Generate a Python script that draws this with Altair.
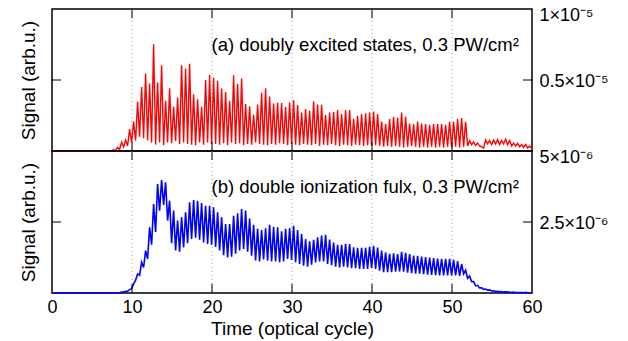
import altair as alt
import pandas as pd

# time of first listed peak and spacing between successive peaks (optical cycles)
T0 = 7.7
STEP = 0.5

# (a) doubly excited states, values in units of 1e-5
top_peaks = [
    0.008, 0.026, 0.061, 0.077, 0.154,
    0.208, 0.346, 0.451, 0.545, 0.475, 0.751, 0.482, 0.604, 0.353, 0.442,
    0.311, 0.377, 0.604, 0.580, 0.615, 0.400, 0.365, 0.311, 0.500, 0.535,
    0.515, 0.494, 0.440, 0.415, 0.353, 0.533, 0.472, 0.511, 0.330, 0.315,
    0.255, 0.328, 0.410, 0.441, 0.383, 0.334, 0.339, 0.338, 0.310, 0.341,
    0.358, 0.323, 0.271, 0.295, 0.284, 0.351, 0.328, 0.325, 0.254, 0.271,
    0.276, 0.288, 0.260, 0.288, 0.288, 0.225, 0.248, 0.260, 0.266, 0.271,
    0.278, 0.260, 0.208, 0.189, 0.225, 0.241, 0.236, 0.271, 0.241, 0.194,
    0.189, 0.208, 0.194, 0.189, 0.184, 0.189, 0.189, 0.189, 0.184, 0.206,
    0.206, 0.225, 0.232, 0.206, 0.072, 0.064, 0.056, 0.030, 0.077, 0.074,
    0.077, 0.080, 0.074, 0.084, 0.074, 0.056, 0.054, 0.045, 0.045, 0.035,
]
top_troughs = [
    0.003, 0.012, 0.028, 0.035, 0.060,
    0.075, 0.100, 0.090, 0.075, 0.060, 0.045, 0.060, 0.040, 0.060, 0.055,
    0.070, 0.050, 0.060, 0.050, 0.045, 0.040, 0.060, 0.045, 0.060, 0.050,
    0.050, 0.045, 0.055, 0.040, 0.060, 0.050, 0.055, 0.040, 0.050, 0.045,
    0.060, 0.050, 0.045, 0.040, 0.050, 0.045, 0.055, 0.050, 0.040, 0.050,
    0.045, 0.040, 0.050, 0.045, 0.040, 0.050, 0.035, 0.045, 0.040, 0.050,
    0.040, 0.035, 0.045, 0.040, 0.035, 0.045, 0.040, 0.035, 0.040, 0.035,
    0.040, 0.035, 0.030, 0.035, 0.030, 0.035, 0.030, 0.025, 0.030, 0.035,
    0.030, 0.025, 0.030, 0.025, 0.030, 0.025, 0.030, 0.025, 0.030, 0.025,
    0.030, 0.025, 0.030, 0.035, 0.045, 0.040, 0.035, 0.020, 0.050, 0.045,
    0.050, 0.045, 0.050, 0.045, 0.035, 0.035, 0.030, 0.025, 0.020,
]

# (b) double ionization flux, values in units of 1e-6
bot_peaks = [
    0.00, 0.01, 0.03, 0.06, 0.12,
    0.32, 0.67, 1.08, 1.49, 2.31, 3.13, 3.84, 3.98, 3.90, 3.25,
    2.90, 2.55, 2.67, 2.84, 3.19, 3.27, 3.25, 3.17, 3.07, 3.07,
    3.02, 2.84, 2.67, 2.43, 2.43, 2.72, 2.81, 2.96, 2.90, 2.62,
    2.40, 2.26, 2.22, 2.28, 2.40, 2.33, 2.31, 2.17, 2.26, 2.29,
    2.37, 2.22, 2.08, 1.90, 1.82, 1.87, 1.96, 2.02, 2.05, 1.88,
    1.78, 1.70, 1.70, 1.73, 1.72, 1.61, 1.59, 1.59, 1.59, 1.63,
    1.66, 1.60, 1.49, 1.43, 1.38, 1.40, 1.37, 1.45, 1.41, 1.37,
    1.32, 1.31, 1.28, 1.26, 1.25, 1.23, 1.21, 1.20, 1.20, 1.20,
    1.17, 1.12, 1.02, 0.80, 0.60, 0.40, 0.27, 0.18, 0.14, 0.11,
    0.08, 0.06, 0.05, 0.04, 0.03, 0.03, 0.02, 0.02, 0.02, 0.01,
]
bot_troughs = [
    0.00, 0.01, 0.03, 0.06, 0.15,
    0.45, 0.62, 0.90, 1.20, 1.70, 2.15, 2.90, 3.10, 2.55, 1.75,
    1.50, 1.45, 1.60, 1.75, 1.90, 1.95, 1.88, 1.78, 1.73, 1.70,
    1.62, 1.50, 1.33, 1.25, 1.28, 1.38, 1.50, 1.55, 1.45, 1.31,
    1.15, 1.11, 1.18, 1.14, 1.11, 1.11, 1.08, 1.11, 1.20, 1.16,
    1.08, 1.02, 0.96, 0.93, 1.00, 1.08, 1.11, 1.11, 1.02, 0.98,
    0.93, 0.90, 0.93, 0.90, 0.87, 0.87, 0.85, 0.85, 0.85, 0.88,
    0.85, 0.79, 0.73, 0.73, 0.73, 0.75, 0.76, 0.75, 0.72, 0.70,
    0.68, 0.68, 0.66, 0.65, 0.64, 0.63, 0.62, 0.62, 0.62, 0.62,
    0.62, 0.60, 0.67, 0.52, 0.40, 0.25, 0.18, 0.13, 0.10, 0.07,
    0.05, 0.04, 0.03, 0.03, 0.02, 0.02, 0.02, 0.01, 0.01,
]

top_lead = [(0.0, 0.0), (7.4, 0.0)]
top_tail = [(60.0, 0.015)]
bot_lead = [(0.0, 0.0), (7.4, 0.0)]
bot_tail = [(60.0, 0.01)]

x_labels = [0, 10, 20, 30, 40, 50, 60]
x_inner = [10, 20, 30, 40, 50]

top_text = "(a) doubly excited states, 0.3 PW/cm\u00b2"
bot_text = "(b) double ionization fulx, 0.3 PW/cm\u00b2"
ytitle = "Signal (arb.u.)"
xtitle = "Time (optical cycle)"

FONT = "Liberation Sans"
W, H = 480, 142
TL = 9


def build(peaks, troughs, lead, tail):
    rows = list(lead)
    for i, p in enumerate(peaks):
        t = T0 + STEP * i
        rows.append((t, p))
        if i < len(troughs):
            rows.append((t + STEP / 2, troughs[i]))
    rows += tail
    return pd.DataFrame(rows, columns=["t", "v"])


xscale = alt.Scale(domain=[0, 60], nice=False, zero=False)


def panel(df, color, width_px, ymax, mid, label_expr, text, show_x):
    yscale = alt.Scale(domain=[0, ymax], nice=False, zero=True)
    grid = alt.Chart(pd.DataFrame({"g": x_inner})).mark_rule(
        color="#9a9a9a", strokeDash=[1, 3], strokeWidth=1
    ).encode(x=alt.X("g:Q", scale=xscale, axis=None))

    if show_x:
        xaxis = alt.Axis(values=x_labels, title=xtitle, ticks=False, domain=False,
                         grid=False, labelFontSize=18, titleFontSize=19,
                         labelPadding=5, titlePadding=3, format="d",
                         labelFlush=False, orient="bottom")
    else:
        xaxis = None
    line = alt.Chart(df).mark_line(color=color, strokeWidth=width_px).encode(
        x=alt.X("t:Q", scale=xscale, axis=xaxis),
        y=alt.Y("v:Q", scale=yscale,
                axis=alt.Axis(orient="left", title=ytitle, labels=False, ticks=False,
                              domain=False, grid=False, titlePadding=14,
                              titleFontSize=19)),
    )
    ydf = pd.DataFrame({"y": [mid]})
    lt = alt.Chart(ydf).mark_rule(color="black", strokeWidth=1).encode(
        y=alt.Y("y:Q", scale=yscale,
                axis=alt.Axis(orient="right", values=[mid, ymax], labelExpr=label_expr,
                              ticks=False, domain=False, grid=False, title=None,
                              labelFontSize=18, labelPadding=7, labelFlush=False,
                              labelBaseline="middle",
                              labelOffset={"condition": {"test": f"datum.value == {ymax}", "value": 6},
                                           "value": 1})),
        x=alt.value(0), x2=alt.value(TL),
    )
    rt = alt.Chart(ydf).mark_rule(color="black", strokeWidth=1).encode(
        y=alt.Y("y:Q", scale=yscale, axis=None),
        x=alt.value(W - TL), x2=alt.value(W),
    )
    xdf = pd.DataFrame({"x": x_inner})
    xt_top = alt.Chart(xdf).mark_rule(color="black", strokeWidth=1).encode(
        x=alt.X("x:Q", scale=xscale, axis=None), y=alt.value(0), y2=alt.value(TL))
    xt_bot = alt.Chart(xdf).mark_rule(color="black", strokeWidth=1).encode(
        x=alt.X("x:Q", scale=xscale, axis=None), y=alt.value(H - TL), y2=alt.value(H))
    txt = alt.Chart(pd.DataFrame({"s": [text]})).mark_text(
        align="left", baseline="alphabetic", fontSize=18.5, font=FONT, color="black"
    ).encode(x=alt.value(159.5), y=alt.value(42), text="s:N")

    return alt.layer(grid, line, lt, rt, xt_top, xt_bot, txt).resolve_axis(
        x="independent", y="independent").properties(width=W, height=H)


top = panel(build(top_peaks, top_troughs, top_lead, top_tail), "#ff0000", 1.4, 1.0, 0.5,
            "datum.value == 1 ? '1\u00d710\u207b\u2075' : '0.5\u00d710\u207b\u2075'",
            top_text, False)
bottom = panel(build(bot_peaks, bot_troughs, bot_lead, bot_tail), "#0000ff", 1.6, 5.0, 2.5,
               "datum.value == 5 ? '5\u00d710\u207b\u2076' : '2.5\u00d710\u207b\u2076'",
               bot_text, True)

chart = alt.vconcat(top, bottom, spacing=0, bounds="flush").properties(
    padding={"left": 18, "top": 5, "right": 5, "bottom": 2},
    background="white",
).configure_axis(
    labelFont=FONT, titleFont=FONT, labelColor="black", titleColor="black",
    titleFontWeight="normal",
).configure_view(stroke="black", strokeWidth=1.5).configure_concat(spacing=0)

chart.save("out.html", embed_options={"renderer": "svg", "actions": False})
